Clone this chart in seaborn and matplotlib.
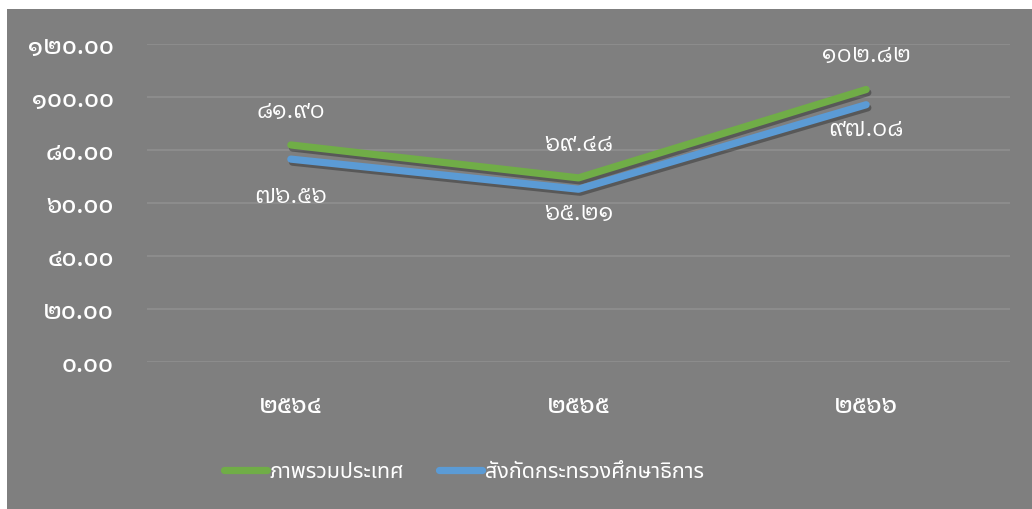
import matplotlib
matplotlib.use("Agg")
import matplotlib.pyplot as plt
import matplotlib.patheffects as pe
from matplotlib.lines import Line2D
from matplotlib.patches import Rectangle
from matplotlib.ticker import FuncFormatter
import seaborn as sns
import pandas as pd

# ---- data ----
years = ["๒๕๖๔", "๒๕๖๕", "๒๕๖๖"]
series_names = ["ภาพรวมประเทศ", "สังกัดกระทรวงศึกษาธิการ"]
national = [81.90, 69.48, 102.82]
moe = [76.56, 65.21, 97.08]
y_ticks = [0, 20, 40, 60, 80, 100, 120]

TH_DIGITS = str.maketrans("0123456789", "๐๑๒๓๔๕๖๗๘๙")


def th(v):
    return f"{v:.2f}".translate(TH_DIGITS)


sns.set_theme(style="white")
plt.rcParams["font.family"] = ["Noto Sans Thai", "DejaVu Sans"]
NUMFONT = ["IBM Plex Sans Thai Looped", "Noto Sans Thai", "DejaVu Sans"]

BG = "#7f7f7f"
GRID = "#8c8c8c"
GREEN = "#70ad47"
BLUE = "#5b9bd5"

df = pd.DataFrame({
    "year": years * 2,
    "value": national + moe,
    "series": [series_names[0]] * len(years) + [series_names[1]] * len(years),
})

fig = plt.figure(figsize=(10.32, 5.10), dpi=100, facecolor="white")
fig.patches.append(Rectangle((7 / 1032, 0), 1, 1 - 10 / 510, transform=fig.transFigure,
                             facecolor=BG, edgecolor="none", zorder=-10))
ax = fig.add_axes([147 / 1032, 1 - 363 / 510, (1010 - 147) / 1032, (363 - 45) / 510])
ax.set_facecolor(BG)

shadow = [pe.SimpleLineShadow(offset=(1.2, -2.2), shadow_color="black", alpha=0.3),
          pe.Normal()]
sns.lineplot(data=df, x="year", y="value", hue="series", palette=[GREEN, BLUE],
             linewidth=5.2, ax=ax, legend=False, sort=False,
             path_effects=shadow)
for ln in ax.get_lines():
    ln.set_solid_capstyle("round")
    ln.set_solid_joinstyle("round")

ax.set_xlim(-0.5, 2.5)
ax.set_ylim(0, 120)
ax.set_yticks(y_ticks)
ax.yaxis.set_major_formatter(FuncFormatter(lambda v, p: th(v)))
ax.grid(axis="y", color=GRID, linewidth=1.5)
ax.grid(axis="x", visible=False)
ax.set_axisbelow(True)
for s in ax.spines.values():
    s.set_visible(False)
ax.tick_params(axis="y", length=0, pad=24, labelcolor="white")
ax.tick_params(axis="x", length=0, pad=23, labelcolor="white")
for lab in ax.get_yticklabels() + ax.get_xticklabels():
    lab.set_family(NUMFONT)
    lab.set_fontweight("medium")
    lab.set_fontsize(17)
ax.set_xlabel("")
ax.set_ylabel("")

# data labels
up_offsets = [25, 25, 25]
down_offsets = [-26, -17, -17]
for i, (a, b) in enumerate(zip(national, moe)):
    ax.annotate(th(a), (i, a), xytext=(0, up_offsets[i]), textcoords="offset points",
                ha="center", va="center", color="white", fontsize=17,
                family=NUMFONT, fontweight="normal")
    ax.annotate(th(b), (i, b), xytext=(0, down_offsets[i]), textcoords="offset points",
                ha="center", va="center", color="white", fontsize=17,
                family=NUMFONT, fontweight="normal")

handles = [Line2D([], [], color=GREEN, linewidth=5.2, solid_capstyle="round"),
           Line2D([], [], color=BLUE, linewidth=5.2, solid_capstyle="round")]
fig.legend(handles, series_names, loc="center", bbox_to_anchor=(464 / 1032, 0.073), ncol=2,
           frameon=False, fontsize=15.5, labelcolor="white", handlelength=2.0,
           handletextpad=0.15, columnspacing=1.6)

fig.savefig("out.png", dpi=100, facecolor="white")
